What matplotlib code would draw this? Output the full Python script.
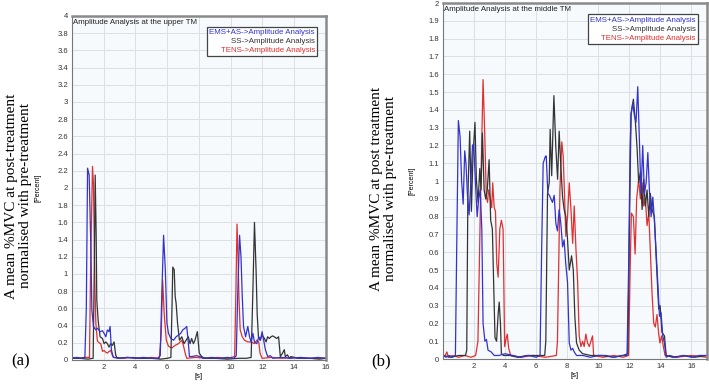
import matplotlib
matplotlib.use("Agg")
import matplotlib.pyplot as plt
from matplotlib.ticker import MultipleLocator, FormatStrFormatter
from matplotlib.offsetbox import TextArea, VPacker, AnchoredOffsetbox

# ---- data, (time [s], amplitude [Percent]) ----
# panel (a): upper TM
a_ems = [(0, 0.02), (0.3, 0.03), (0.6, 0.02), (0.81, 0.03), (0.9, 0.6), (0.98, 2.23), (1.08, 2.15),
         (1.19, 1.28), (1.25, 0.58), (1.35, 0.39), (1.5, 0.35), (1.6, 0.37), (1.77, 0.33), (1.92, 0.34),
         (2.02, 0.31), (2.13, 0.27), (2.23, 0.35), (2.33, 0.33), (2.4, 0.39), (2.48, 0.12), (2.6, 0.03),
         (3.0, 0.02), (3.5, 0.03), (4.0, 0.02), (4.5, 0.03), (5.0, 0.02), (5.4, 0.02), (5.56, 0.05),
         (5.65, 0.7), (5.77, 1.45), (5.88, 1.05), (5.98, 0.43), (6.08, 0.31), (6.23, 0.25), (6.4, 0.23),
         (6.56, 0.27), (6.71, 0.29), (6.85, 0.31), (6.98, 0.35), (7.13, 0.37), (7.23, 0.39), (7.33, 0.2),
         (7.4, 0.04), (7.54, 0.04), (7.85, 0.05), (8.06, 0.04), (8.27, 0.02), (8.8, 0.03), (9.3, 0.02),
         (9.8, 0.03), (10.2, 0.02), (10.35, 0.05), (10.45, 0.8), (10.56, 1.45), (10.65, 1.2), (10.73, 0.74),
         (10.81, 0.39), (10.94, 0.27), (11.08, 0.39), (11.19, 0.27), (11.29, 0.21), (11.4, 0.31),
         (11.5, 0.21), (11.65, 0.19), (11.77, 0.27), (11.88, 0.23), (11.98, 0.33), (12.08, 0.23),
         (12.19, 0.12), (12.33, 0.04), (12.5, 0.05), (12.65, 0.02), (13.2, 0.03), (13.8, 0.02),
         (14.4, 0.03), (15.0, 0.02), (15.5, 0.03), (16, 0.02)]
a_ss = [(0, 0.02), (0.5, 0.02), (1.0, 0.01), (1.33, 0.02), (1.4, 1.0), (1.46, 2.15), (1.52, 1.47),
        (1.56, 0.7), (1.65, 0.45), (1.77, 0.27), (1.92, 0.25), (2.02, 0.19), (2.13, 0.21), (2.23, 0.19),
        (2.33, 0.15), (2.44, 0.19), (2.54, 0.17), (2.65, 0.21), (2.75, 0.06), (2.85, 0.02), (3.5, 0.03),
        (4.2, 0.02), (5.0, 0.02), (5.6, 0.01), (6.0, 0.02), (6.23, 0.03), (6.3, 0.6), (6.35, 1.08),
        (6.44, 1.05), (6.5, 0.74), (6.56, 0.66), (6.65, 0.43), (6.77, 0.23), (6.92, 0.27), (7.06, 0.19),
        (7.19, 0.23), (7.33, 0.27), (7.44, 0.19), (7.54, 0.25), (7.65, 0.19), (7.75, 0.23), (7.9, 0.33),
        (8.02, 0.08), (8.17, 0.04), (8.38, 0.02), (9.0, 0.02), (9.8, 0.01), (10.5, 0.02), (11.0, 0.02),
        (11.29, 0.03), (11.4, 0.8), (11.5, 1.6), (11.6, 1.05), (11.67, 0.54), (11.75, 0.27), (11.85, 0.23),
        (11.98, 0.29), (12.13, 0.25), (12.23, 0.21), (12.33, 0.27), (12.44, 0.25), (12.54, 0.27),
        (12.65, 0.28), (12.75, 0.27), (12.9, 0.25), (13.02, 0.27), (13.13, 0.04), (13.27, 0.08),
        (13.38, 0.12), (13.44, 0.04), (13.58, 0.06), (13.69, 0.02), (13.79, 0.04), (14.2, 0.02),
        (15.0, 0.02), (15.6, 0.01), (16, 0.02)]
a_tens = [(0, 0.03), (0.4, 0.02), (0.8, 0.03), (1.1, 0.03), (1.18, 1.2), (1.29, 2.25), (1.35, 2.05),
          (1.44, 0.89), (1.5, 0.43), (1.6, 0.22), (1.71, 0.2), (1.81, 0.19), (1.92, 0.1), (2.02, 0.11),
          (2.13, 0.09), (2.23, 0.08), (2.33, 0.1), (2.44, 0.11), (2.55, 0.05), (2.65, 0.03), (3.2, 0.02),
          (3.8, 0.03), (4.4, 0.02), (5.0, 0.03), (5.5, 0.02), (5.62, 0.3), (5.71, 0.93), (5.81, 0.54),
          (5.94, 0.23), (6.08, 0.16), (6.29, 0.14), (6.5, 0.17), (6.71, 0.19), (6.92, 0.23), (7.02, 0.17),
          (7.13, 0.08), (7.23, 0.02), (7.8, 0.03), (8.5, 0.02), (9.2, 0.03), (9.8, 0.02), (10.25, 0.04),
          (10.33, 0.8), (10.4, 1.58), (10.46, 1.24), (10.52, 0.74), (10.6, 0.35), (10.73, 0.27),
          (10.87, 0.23), (11.08, 0.21), (11.29, 0.21), (11.5, 0.19), (11.65, 0.23), (11.77, 0.21),
          (11.85, 0.08), (11.98, 0.02), (12.6, 0.03), (13.2, 0.02), (14, 0.03), (14.8, 0.02),
          (15.5, 0.02), (16, 0.02)]

# panel (b): middle TM
b_ems = [(0, 0.02), (0.2, 0.01), (0.4, 0.02), (0.6, 0.01), (0.8, 0.02), (0.88, 0.6), (0.99, 1.34),
         (1.1, 1.25), (1.2, 1.0), (1.3, 0.87), (1.4, 1.17), (1.48, 1.1), (1.57, 0.93), (1.68, 0.81),
         (1.8, 1.0), (1.9, 1.2), (1.98, 1.21), (2.08, 1.01), (2.2, 0.8), (2.3, 0.9), (2.4, 0.95),
         (2.5, 0.73), (2.58, 0.2), (2.7, 0.1), (2.8, 0.11), (2.9, 0.05), (3.1, 0.04), (3.3, 0.02),
         (3.6, 0.02), (4.0, 0.03), (4.5, 0.02), (5.0, 0.01), (5.5, 0.02), (6.0, 0.01), (6.25, 0.02),
         (6.35, 0.6), (6.45, 1.1), (6.6, 1.14), (6.65, 1.14), (6.75, 0.93), (6.85, 0.92), (6.95, 0.9),
         (7.05, 0.88), (7.16, 0.92), (7.27, 0.76), (7.37, 0.72), (7.48, 0.84), (7.59, 0.76), (7.7, 0.63),
         (7.8, 0.67), (7.9, 0.54), (8.02, 0.43), (8.13, 0.09), (8.24, 0.05), (8.35, 0.06), (8.45, 0.04),
         (8.6, 0.02), (9.0, 0.02), (9.5, 0.01), (10, 0.02), (10.5, 0.02), (11, 0.01), (11.5, 0.02),
         (11.85, 0.02), (11.95, 0.5), (12.05, 1.2), (12.11, 1.37), (12.22, 1.44), (12.32, 1.37),
         (12.43, 1.33), (12.54, 1.53), (12.65, 1.22), (12.75, 0.93), (12.86, 1.2), (12.97, 0.93),
         (13.08, 0.99), (13.19, 1.16), (13.29, 0.95), (13.4, 0.8), (13.51, 0.91), (13.61, 0.78),
         (13.72, 0.61), (13.83, 0.43), (13.94, 0.24), (14.04, 0.26), (14.15, 0.13), (14.26, 0.09),
         (14.37, 0.01), (14.6, 0.02), (15, 0.01), (15.5, 0.02), (16, 0.01), (16.5, 0.02), (17, 0.02)]
b_ss = [(0, 0.02), (0.5, 0.01), (1.0, 0.02), (1.45, 0.02), (1.53, 0.05), (1.6, 0.9), (1.72, 1.28),
        (1.83, 0.83), (1.93, 1.14), (2.06, 1.33), (2.15, 1.01), (2.26, 0.88), (2.37, 1.07), (2.45, 0.95),
        (2.54, 1.27), (2.65, 0.95), (2.75, 0.9), (2.85, 0.95), (2.97, 1.12), (3.07, 0.78), (3.18, 0.73),
        (3.27, 0.4), (3.35, 0.12), (3.45, 0.1), (3.55, 0.25), (3.62, 0.32), (3.7, 0.2), (3.76, 0.03),
        (3.9, 0.02), (4.3, 0.02), (4.8, 0.01), (5.4, 0.02), (6.0, 0.02), (6.55, 0.02), (6.62, 0.1),
        (6.73, 0.93), (6.84, 0.99), (6.9, 1.29), (7.0, 1.03), (7.14, 1.48), (7.27, 1.18), (7.38, 1.01),
        (7.48, 1.28), (7.59, 1.08), (7.7, 0.91), (7.8, 0.84), (7.91, 0.8), (8.02, 0.67), (8.13, 0.5),
        (8.28, 0.58), (8.39, 0.5), (8.49, 0.24), (8.6, 0.09), (8.77, 0.05), (8.99, 0.03), (9.5, 0.02),
        (10.2, 0.02), (11, 0.01), (11.6, 0.02), (11.9, 0.03), (12.0, 0.7), (12.11, 1.38), (12.26, 1.46),
        (12.39, 1.33), (12.5, 1.18), (12.6, 0.99), (12.71, 1.05), (12.82, 0.84), (12.92, 1.01),
        (13.03, 0.86), (13.14, 0.95), (13.25, 0.8), (13.35, 0.93), (13.46, 0.84), (13.61, 0.8),
        (13.72, 0.58), (13.89, 0.28), (13.98, 0.3), (14.1, 0.15), (14.26, 0.13), (14.37, 0.02),
        (14.8, 0.01), (15.5, 0.02), (16.2, 0.01), (17, 0.02)]
b_tens = [(0, 0.02), (0.15, 0.02), (0.25, 0.04), (0.35, 0.01), (0.6, 0.02), (1.0, 0.01), (1.4, 0.02),
          (1.8, 0.01), (2.1, 0.02), (2.25, 0.1), (2.42, 0.91), (2.58, 1.57), (2.68, 1.29), (2.79, 0.91),
          (2.87, 0.88), (2.93, 0.95), (3.03, 0.91), (3.14, 0.85), (3.2, 0.99), (3.3, 0.85), (3.38, 0.83),
          (3.46, 0.54), (3.55, 0.46), (3.66, 0.73), (3.76, 0.78), (3.87, 0.73), (3.97, 0.07), (4.08, 0.12),
          (4.14, 0.14), (4.23, 0.06), (4.36, 0.02), (5.0, 0.01), (5.8, 0.02), (6.6, 0.01), (7.3, 0.02),
          (7.37, 0.1), (7.53, 0.95), (7.65, 1.22), (7.74, 1.14), (7.83, 0.91), (7.91, 0.69), (8.02, 0.8),
          (8.13, 0.99), (8.24, 0.84), (8.35, 0.65), (8.45, 0.86), (8.56, 0.62), (8.67, 0.43), (8.77, 0.13),
          (8.88, 0.07), (8.99, 0.1), (9.09, 0.07), (9.2, 0.14), (9.31, 0.09), (9.42, 0.07), (9.63, 0.13),
          (9.7, 0.02), (10.3, 0.01), (11.0, 0.02), (11.6, 0.01), (11.95, 0.02), (12.05, 0.5), (12.13, 0.82),
          (12.26, 0.8), (12.37, 0.59), (12.47, 0.9), (12.6, 1.01), (12.71, 0.9), (12.82, 0.99),
          (12.92, 0.86), (13.03, 0.9), (13.14, 0.75), (13.25, 0.82), (13.35, 0.61), (13.46, 0.37),
          (13.57, 0.2), (13.67, 0.18), (13.78, 0.25), (13.89, 0.14), (13.97, 0.09), (14.08, 0.13),
          (14.19, 0.07), (14.3, 0.02), (15, 0.01), (16, 0.02), (17, 0.01)]

series_labels = ["EMS+AS->Amplitude Analysis", "SS->Amplitude Analysis", "TENS->Amplitude Analysis"]
series_colors = ["#3333cc", "#333333", "#e03030"]
draw_order = [2, 1, 0]  # TENS underneath, EMS+AS on top

SANS = "Liberation Sans"
SERIF = "Liberation Serif"


def style_axes(ax, xmax, ymax, ystep):
    ax.set_facecolor("#f7fafd")
    ax.set_xlim(0, xmax)
    ax.set_ylim(0, ymax)
    ax.xaxis.set_major_locator(MultipleLocator(2))
    ax.yaxis.set_major_locator(MultipleLocator(ystep))
    ax.yaxis.set_major_formatter(FormatStrFormatter("%g"))
    ax.grid(True, color="#dcdfe3", lw=0.7)
    ax.set_axisbelow(True)
    ax.tick_params(length=0, labelsize=5.5, labelcolor="#333333", pad=3)
    # no label at x = 0
    ax.set_xticks(range(2, int(xmax) + 1, 2))
    for lab in ax.get_xticklabels() + ax.get_yticklabels():
        lab.set_family(SANS)
    for s in ["left", "bottom"]:
        ax.spines[s].set_color("#777777")
        ax.spines[s].set_linewidth(0.8)
    for s in ["top", "right"]:
        ax.spines[s].set_color("#8a8a8a")
        ax.spines[s].set_linewidth(1.8)
    ax.set_xlabel("[s]", fontsize=5.5, family=SANS, labelpad=1)


def draw_panel(ax, series, title):
    for i in draw_order:
        t = [p[0] for p in series[i]]
        v = [p[1] for p in series[i]]
        ax.plot(t, v, color=series_colors[i], lw=0.9)
    ax.text(0.004, 0.992, title, transform=ax.transAxes, va="top", ha="left",
            fontsize=5.7, family=SANS, color="#222222")
    areas = [TextArea(lab, textprops=dict(color=c, fontsize=5.7, family=SANS))
             for lab, c in zip(series_labels, series_colors)]
    box = VPacker(children=areas, align="right", pad=0, sep=1.5)
    anc = AnchoredOffsetbox(loc="upper right", child=box, pad=0.15, borderpad=0,
                            frameon=True, bbox_to_anchor=(0.965, 0.968),
                            bbox_transform=ax.transAxes)
    anc.patch.set_edgecolor("#444444")
    anc.patch.set_linewidth(0.9)
    anc.patch.set_facecolor("white")
    ax.add_artist(anc)


fig = plt.figure(figsize=(7.09, 3.84), dpi=100)

ax_a = fig.add_axes([0.1016, 0.0625, 0.358, 0.896])
style_axes(ax_a, 16, 4, 0.2)
draw_panel(ax_a, [a_ems, a_ss, a_tens], "Amplitude Analysis at the upper TM")

ax_b = fig.add_axes([0.6248, 0.065, 0.3724, 0.927])
style_axes(ax_b, 17, 2, 0.1)
draw_panel(ax_b, [b_ems, b_ss, b_tens], "Amplitude Analysis at the middle TM")

# outer labels
fig.text(0.026, 0.49, "A mean %MVC at post-treatment\nnormalised with pre-treatment",
         rotation=90, ha="center", va="center", fontsize=11, family=SERIF, linespacing=1.1)
fig.text(0.054, 0.51, "[Percent]", rotation=90, ha="center", va="center", fontsize=5, family=SANS)
fig.text(0.029, 0.058, "(a)", ha="center", va="center", fontsize=12, family=SERIF)

fig.text(0.5416, 0.508, "A mean %MVC at post treatment\nnormalised with pre-treatment",
         rotation=90, ha="center", va="center", fontsize=11, family=SERIF, linespacing=1.1)
fig.text(0.581, 0.53, "[Percent]", rotation=90, ha="center", va="center", fontsize=5, family=SANS)
fig.text(0.538, 0.058, "(b)", ha="center", va="center", fontsize=12, family=SERIF)

fig.savefig("out.png", dpi=100)
